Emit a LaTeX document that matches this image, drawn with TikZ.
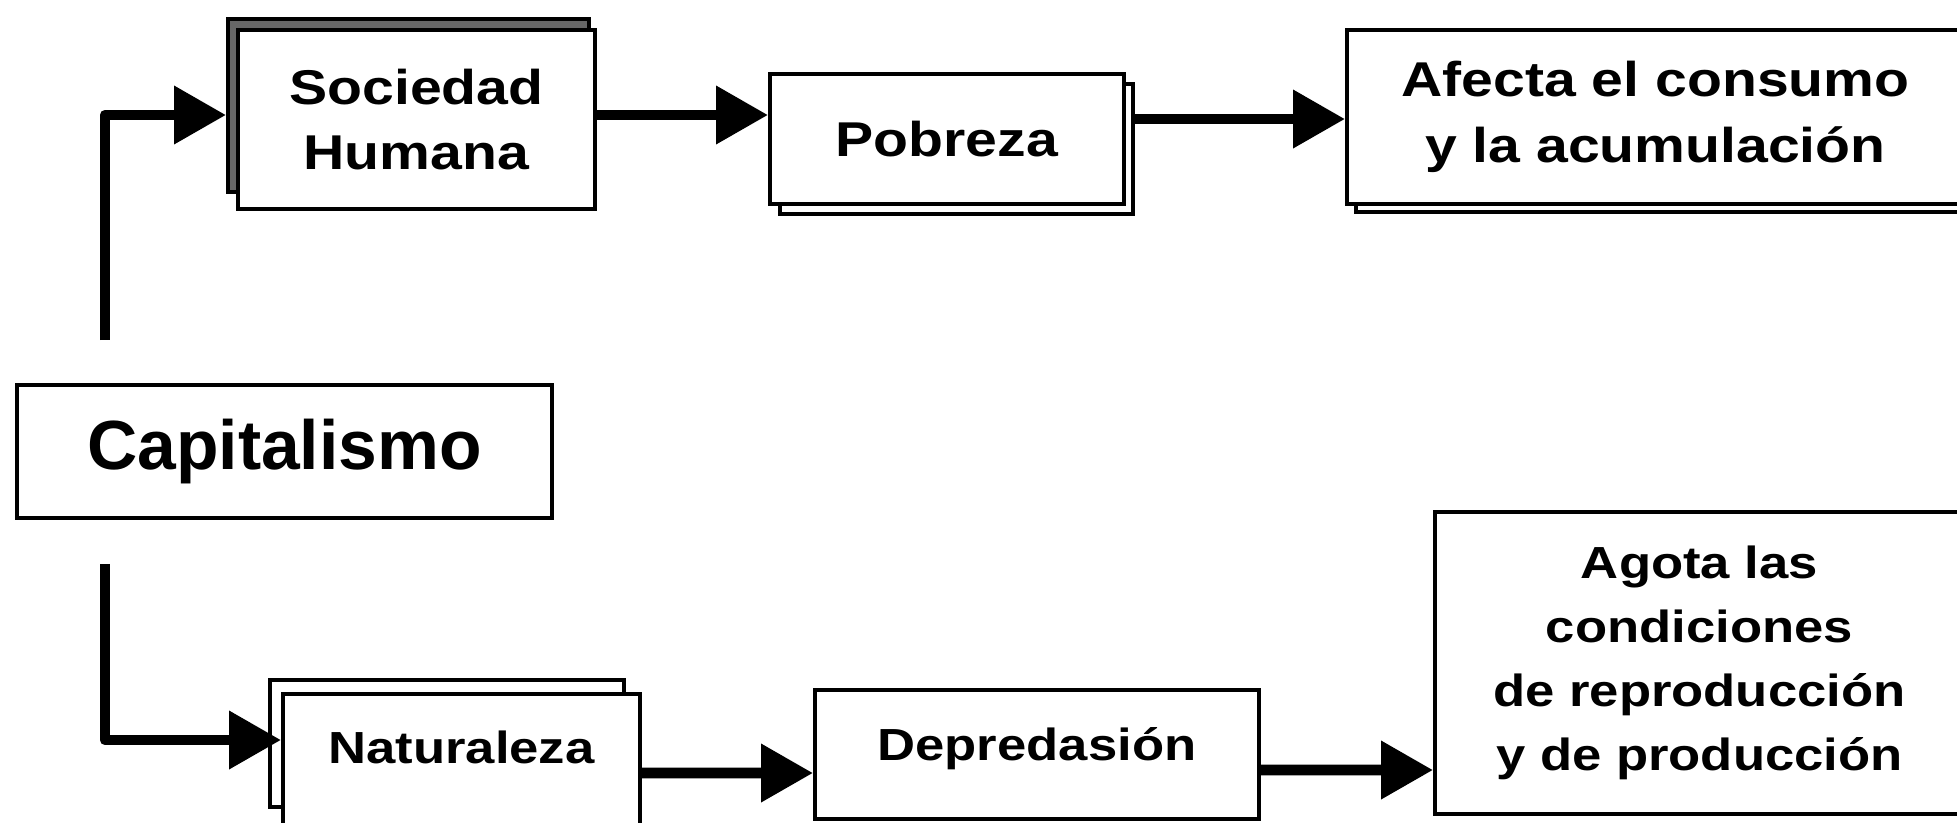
\documentclass[tikz,border=0pt]{standalone}
\usepackage{fontspec}
\setmainfont{Liberation Sans}
\newfontfamily\widesans{Liberation Sans}[FakeStretch=1.17]
\usetikzlibrary{arrows.meta}

\begin{document}
\begin{tikzpicture}[
  box/.style={draw, line width=1.1pt, fill=white, inner sep=0pt, align=center, anchor=north west},
  back/.style={box, fill=black!60},
  shade/.style={box},
  top/.style={font=\widesans\bfseries\fontsize{13.9pt}{18.6pt}\selectfont},
  low/.style={font=\widesans\bfseries\fontsize{12.8pt}{18.2pt}\selectfont},
  big/.style={font=\bfseries\fontsize{19.8pt}{24pt}\selectfont},
  arrow/.style={-{Triangle[length=0.52cm, width=0.56cm]}, line width=3pt, line join=round}
]
\useasboundingbox (0,0) rectangle (19.57,-8.22);
\clip (0,0) rectangle (19.57,-8.22);

% upper branch
\node[back, minimum width=3.61cm, minimum height=1.73cm] (socb) at (2.26,-0.17) {};
\node[box, top, minimum width=3.57cm, minimum height=1.79cm] (soc) at (2.36,-0.28) {Sociedad\\Humana};
\node[shade, minimum width=3.53cm, minimum height=1.30cm] (pobs) at (7.78,-0.82) {};
\node[box, top, minimum width=3.54cm, minimum height=1.30cm] (pob) at (7.68,-0.72) {Pobreza};
\node[shade, minimum width=6.20cm, minimum height=1.74cm] (afes) at (13.54,-0.36) {};
\node[box, top, minimum width=6.17cm, minimum height=1.74cm] (afe) at (13.45,-0.28) {Afecta el consumo\\y la acumulación};

% root
\node[box, big, minimum width=5.35cm, minimum height=1.33cm] (cap) at (0.15,-3.83) {Capitalismo};

% lower branch
\node[box, minimum width=3.54cm, minimum height=1.27cm] (natb) at (2.68,-6.78) {};
\node[box, low, minimum width=3.57cm, text height=0.70cm, text depth=0.90cm] (nat) at (2.81,-6.92) {Naturaleza};
\node[box, low, minimum width=4.44cm, text height=0.71cm, text depth=0.58cm] (dep) at (8.13,-6.88) {Depredasión};
\node[box, low, minimum width=5.29cm, minimum height=3.02cm] (ago) at (14.33,-5.10) {Agota las\\condiciones\\de reproducción\\y de producción};

\draw[arrow, shorten <=0.43cm] ([xshift=0.9cm]cap.north west) |- ([yshift=-0.98cm]socb.north west);
\draw[arrow] ([yshift=-0.87cm]soc.north east) -- ([yshift=-0.43cm]pob.north west);
\draw[arrow] ([yshift=-0.37cm]pobs.north east) -- ([yshift=-0.91cm]afe.north west);
\draw[arrow, shorten <=0.44cm] ([xshift=0.9cm]cap.south west) |- ([yshift=-0.48cm]nat.north west);
\draw[arrow] ([yshift=-0.81cm]nat.north east) -- ([yshift=-0.85cm]dep.north west);
\draw[arrow] ([yshift=-0.82cm]dep.north east) -- ([yshift=-2.60cm]ago.north west);
\end{tikzpicture}
\end{document}
